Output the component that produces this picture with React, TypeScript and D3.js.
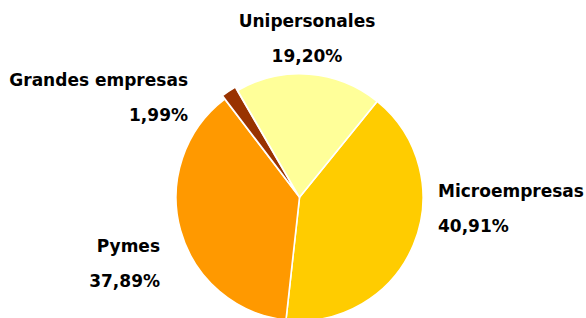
import React from "react";
import * as d3 from "d3";

const categories = ["Microempresas", "Pymes", "Grandes empresas", "Unipersonales"];
const values = [40.91, 37.89, 1.99, 19.2];
const valueLabels = ["40,91%", "37,89%", "1,99%", "19,20%"];
const colors = ["#FFCC00", "#FF9900", "#993300", "#FFFF99"];
const exploded = [0, 0, 4, 0];

const W = 586;
const H = 318;
const CX = 299.5;
const CY = 197.3;
const R = 123.5;
const START = (39 * Math.PI) / 180;

// label layout: [x, y of first baseline, anchor]
const labelLayout: [number, number, "start" | "middle" | "end"][] = [
  [438, 197, "start"],
  [160, 252, "end"],
  [188, 86, "end"],
  [307, 27, "middle"],
];

export default function App() {
  const pie = d3
    .pie<number>()
    .sort(null)
    .value((d) => d)
    .startAngle(START)
    .endAngle(START + 2 * Math.PI);
  const arcs = pie(values);
  const arc = d3.arc<d3.PieArcDatum<number>>().innerRadius(0).outerRadius(R);
  const font = "'DejaVu Sans', sans-serif";
  return (
    <svg
      width={W}
      height={H}
      style={{ position: "absolute", left: 0, top: 0, background: "#fff" }}
    >
      <g transform={`translate(${CX},${CY})`}>
        {arcs.map((a, i) => {
          const mid = (a.startAngle + a.endAngle) / 2;
          const dx = Math.sin(mid) * exploded[i];
          const dy = -Math.cos(mid) * exploded[i];
          return (
            <path
              key={categories[i]}
              d={arc(a) || ""}
              transform={`translate(${dx},${dy})`}
              fill={colors[i]}
              stroke="#fff"
              strokeWidth={1.6}
              strokeLinejoin="round"
            />
          );
        })}
      </g>
      {categories.map((c, i) => {
        const [x, y, anchor] = labelLayout[i];
        return (
          <text
            key={c}
            x={x}
            y={y}
            textAnchor={anchor}
            fontFamily={font}
            fontWeight="bold"
            fontSize={17}
            fill="#000"
          >
            <tspan x={x} y={y}>
              {c}
            </tspan>
            <tspan x={x} y={y + 35}>
              {valueLabels[i]}
            </tspan>
          </text>
        );
      })}
    </svg>
  );
}
